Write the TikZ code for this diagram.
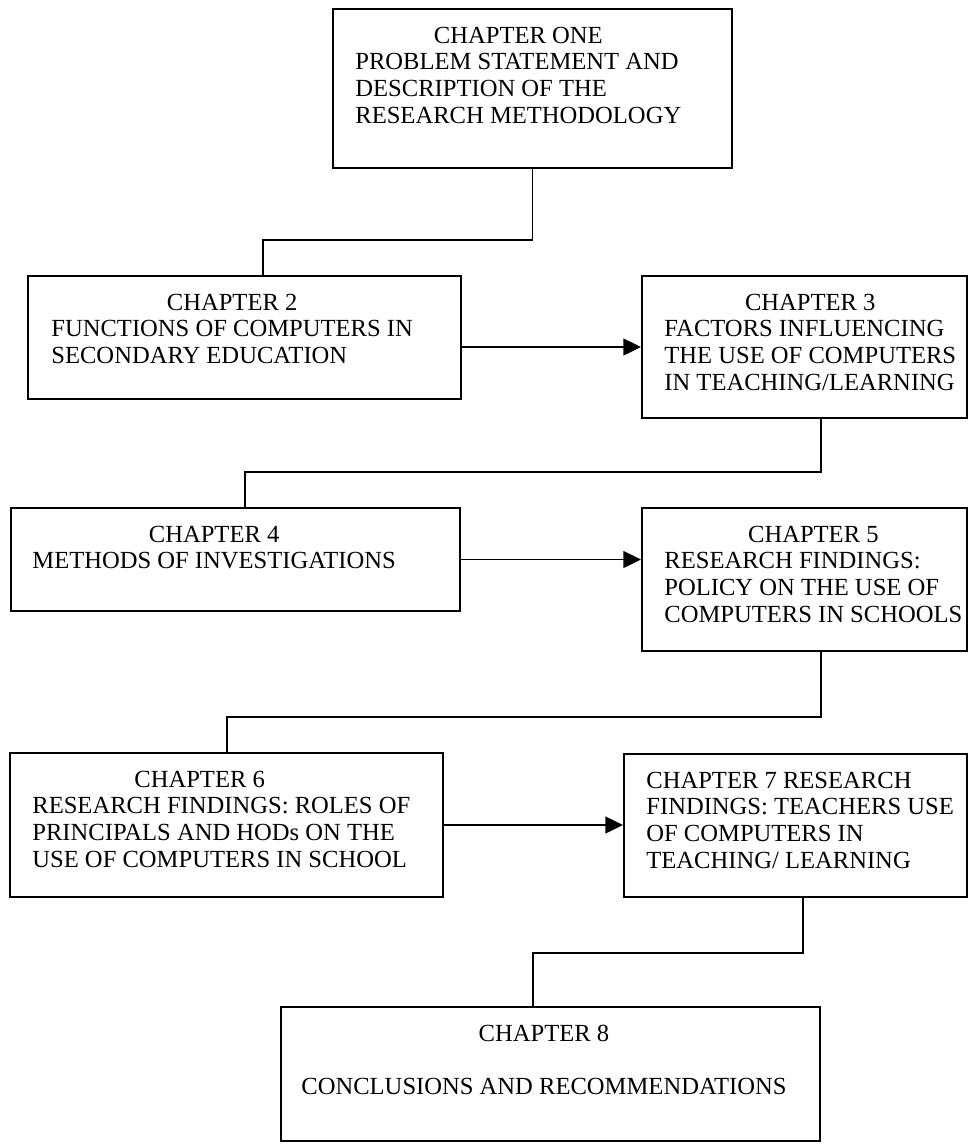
\documentclass[tikz,border=0pt]{standalone}
\usepackage{fontspec}
\setmainfont{Liberation Serif}
\usetikzlibrary{arrows.meta,fit,calc}
\newlength\pxu
\setlength\pxu{0.02cm}
\newcommand{\chead}[1]{\multicolumn{1}{@{}c@{}}{#1}}

\begin{document}
\begin{tikzpicture}[x=0.02cm, y=-0.02cm,
    chapter/.style={draw, line width=1.1pt, inner sep=0pt},
    chaptext/.style={anchor=base west, inner sep=0pt, font=\fontsize{14pt}{15.2pt}\selectfont},
    link/.style={line width=1.1pt},
    flow/.style={line width=1.1pt, -{Triangle[length=10pt,width=9.5pt]}}]
  \useasboundingbox (0,0) rectangle (970,1144);

  \node[chapter, fit={(333,9) (732,168)}] (c1) {};
  \node[chaptext] (t1) at ($(c1.north west)+(23,35)$) {\begin{tabular}[t]{@{}l@{}}
      \chead{CHAPTER ONE}\\ PROBLEM STATEMENT AND\\ DESCRIPTION OF THE\\ RESEARCH METHODOLOGY
    \end{tabular}};

  \node[chapter, fit={(28,276) (461,399)}] (c2) {};
  \node[chaptext] (t2) at ($(c2.north west)+(24,35)$) {\begin{tabular}[t]{@{}l@{}}
      \chead{CHAPTER 2}\\ FUNCTIONS OF COMPUTERS IN\\ SECONDARY EDUCATION
    \end{tabular}};

  \node[chapter, fit={(642,276) (967,418)}] (c3) {};
  \node[chaptext] (t3) at ($(c3.north west)+(23,35)$) {\begin{tabular}[t]{@{}l@{}}
      \chead{CHAPTER 3}\\ FACTORS INFLUENCING\\ THE USE OF COMPUTERS\\ IN TEACHING/LEARNING
    \end{tabular}};

  \node[chapter, fit={(11,508) (460,611)}] (c4) {};
  \node[chaptext] (t4) at ($(c4.north west)+(22,35)$) {\begin{tabular}[t]{@{}l@{}}
      \chead{CHAPTER 4}\\ METHODS OF INVESTIGATIONS
    \end{tabular}};

  \node[chapter, fit={(642,508) (967,651)}] (c5) {};
  \node[chaptext] (t5) at ($(c5.north west)+(23,35)$) {\begin{tabular}[t]{@{}l@{}}
      \chead{CHAPTER 5}\\ RESEARCH FINDINGS:\\ POLICY ON THE USE OF\\ COMPUTERS IN SCHOOLS
    \end{tabular}};

  \node[chapter, fit={(10,753) (443,897)}] (c6) {};
  \node[chaptext] (t6) at ($(c6.north west)+(23,35)$) {\begin{tabular}[t]{@{}l@{}}
      \hspace*{102\pxu}CHAPTER 6\\ RESEARCH FINDINGS: ROLES OF\\ PRINCIPALS AND HODs ON THE\\ USE OF COMPUTERS IN SCHOOL
    \end{tabular}};

  \node[chapter, fit={(624,754) (967,897)}] (c7) {};
  \node[chaptext] (t7) at ($(c7.north west)+(23,35)$) {\begin{tabular}[t]{@{}l@{}}
      CHAPTER 7 RESEARCH\\ FINDINGS: TEACHERS USE\\ OF COMPUTERS IN\\ TEACHING/ LEARNING
    \end{tabular}};

  \node[chapter, fit={(281,1007) (820,1141)}] (c8) {};
  \node[chaptext] (t8) at ($(c8.north west)+(21,35)$) {\begin{tabular}[t]{@{}l@{}}
      \chead{CHAPTER 8}\\ \\ CONCLUSIONS AND RECOMMENDATIONS
    \end{tabular}};

  \coordinate (b12) at (263,240);
  \coordinate (a34) at (821,472);
  \coordinate (b34) at (245,472);
  \coordinate (a56) at (821,717);
  \coordinate (b56) at (227,717);
  \coordinate (a78) at (803,953);
  \coordinate (b78) at (533,953);

  \draw[link] (c1.south) |- (b12) -- (b12 |- c2.north);
  \draw[link] (a34 |- c3.south) -- (a34) -- (b34) -- (b34 |- c4.north);
  \draw[link] (a56 |- c5.south) -- (a56) -- (b56) -- (b56 |- c6.north);
  \draw[link] (a78 |- c7.south) -- (a78) -- (b78) -- (b78 |- c8.north);

  \draw[flow] (c2.east |- c3.west) -- (c3.west);
  \draw[flow] (c4.east) -- (c4.east -| c5.west);
  \draw[flow] (c6.east) -- (c6.east -| c7.west);
\end{tikzpicture}
\end{document}
